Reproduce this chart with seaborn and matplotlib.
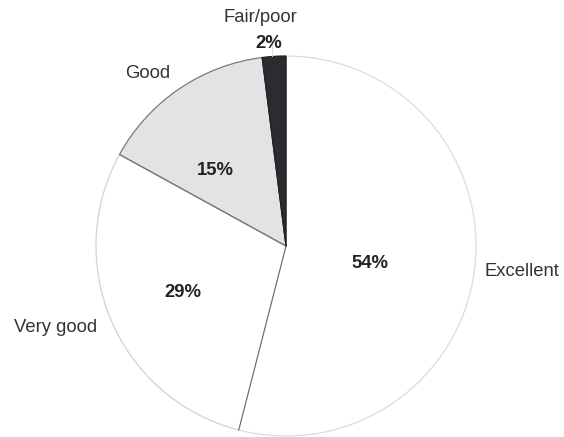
import numpy as np
import matplotlib
matplotlib.use("Agg")
import matplotlib.pyplot as plt
import seaborn as sns

categories = ["Excellent", "Very good", "Good", "Fair/poor"]
shares = [54, 29, 15, 2]
pct_labels = ["54%", "29%", "15%", "2%"]

fills = ["#ffffff", "#ffffff", "#e3e3e6", "#2b2b30"]
rims = ["#dcdcdc", "#d2d2d2", "#7a7a7a", "#222226"]

sns.set_theme(style="white")
plt.rcParams["font.family"] = ["Liberation Sans", "DejaVu Sans"]

W, H = 564, 437
fig = plt.figure(figsize=(W / 100, H / 100), dpi=100)
ax = fig.add_axes([0, 0, 1, 1])
ax.set_xlim(0, W)
ax.set_ylim(0, H)
ax.set_aspect("equal")
ax.axis("off")

cx, cy, R = 286, H - 246, 190
wedges, _ = ax.pie(shares, colors=fills, startangle=90, counterclock=False,
                   center=(cx, cy), radius=R, frame=True,
                   wedgeprops=dict(linewidth=0.9))
for w, ec in zip(wedges, rims):
    w.set_edgecolor(ec)
ax.set_xlim(0, W)
ax.set_ylim(0, H)
ax.axis("off")

# separators between slices
bounds = 90 - 360 * np.cumsum([0] + shares[:-1]) / sum(shares)
sep_cols = ["#555555", "#666666", "#777777", "#222222"]
for a, c in zip(bounds, sep_cols):
    t = np.deg2rad(a)
    ax.plot([cx, cx + R * np.cos(t)], [cy, cy + R * np.sin(t)], color=c, lw=0.7)

# percentage labels: (angle deg, radius) from centre
pct_pos = [(-12, 86), (204.5, 113), (133, 103), (95, 203)]
for (a, r), txt in zip(pct_pos, pct_labels):
    t = np.deg2rad(a)
    ax.text(cx + r * np.cos(t), cy + r * np.sin(t), txt, ha="center", va="center",
            fontsize=13.3, fontweight="bold", color="#222222")

# category names
name_pos = [(485, H - 272, "left"), (97, H - 327, "right"),
            (148, H - 73, "center"), (260, H - 18, "center")]
for (x, y, ha), txt in zip(name_pos, categories):
    ax.text(x, y, txt, ha=ha, va="center", fontsize=13.3, color="#333333")

# faint leader above the small slice
ax.plot([272, 272], [H - 36, H - 56], color="#dddddd", lw=0.8)

fig.savefig("out.png", dpi=100, facecolor="white")
